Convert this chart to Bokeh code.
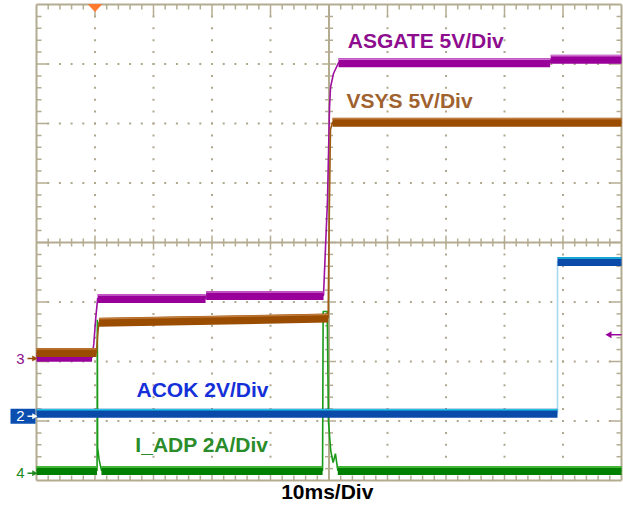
import math
from bokeh.plotting import figure
from bokeh.models import Range1d
from bokeh.core.properties import value
from bokeh.embed import file_html
from bokeh.resources import INLINE

# ---- screen geometry (scope graticule: 10 x 8 divisions, 10 ms per division) ----
W, H = 623, 507
GRID_LEFT, GRID_TOP, GRID_BOTTOM = 36, 4, 480
PX_PER_MS = 5.85          # 58.5 px per 10 ms division
PX_PER_DIV = 59.5
MS_SPAN, DIV_SPAN = 100.0, 8.0
PXX = 1.0 / PX_PER_MS     # one screen pixel in ms
PXY = 1.0 / PX_PER_DIV    # one screen pixel in divisions

# ---- captured waveforms: time (ms) vs. level (screen divisions) ----
asgate_t = [0.0, 9.5, 9.8, 10.1, 10.45, 28.9, 29.0, 49.06, 49.74, 50.09, 50.26, 50.77, 51.62, 87.8, 87.9, 100.0]
asgate_v = [2.07, 2.07, 2.3, 2.7, 3.06, 3.06, 3.11, 3.11, 4.71, 6.27, 6.61, 6.84, 7.02, 7.02, 7.08, 7.08]

vsys_t = [0.0, 10.26, 10.45, 10.68, 49.85, 50.05, 50.25, 50.6, 100.0]
vsys_v = [2.15, 2.15, 2.45, 2.66, 2.73, 4.5, 5.9, 6.02, 6.02]

acok_t = [0.0, 89.06, 89.06, 100.0]
acok_v = [1.13, 1.13, 3.68, 3.68]

iadp_t = [0.0, 10.35, 10.4, 10.45, 10.7, 11.1, 48.9, 49.0, 49.7, 49.9, 50.3, 50.7, 51.1, 51.5, 100.0]
iadp_v = [0.17, 0.17, 2.7, 0.55, 0.35, 0.17, 0.17, 2.84, 2.84, 1.0, 0.5, 0.3, 0.45, 0.17, 0.17]

# channel ground markers (level in divisions) and the trigger time
ch_labels = ["3", "2", "4"]
ch_levels = [2.05, 1.08, 0.12]
ch_colors = ["#8e0d8e", "#ffffff", "#1f8a1f"]
ch_arrow_colors = ["#9a4c00", "#ffffff", "#1f8a1f"]
ref_arrow_level = 2.45
trigger_ms = 10.0

# trace styles
TRACES = [
    # (t, v, core colour, edge colour, step colour, label, label colour, label x, label baseline)
    (iadp_t, iadp_v, "#008000", "#5cc84a", "#1a9a1a", "I_ADP 2A/Div", "#2a8c2a", 16.9, 0.60),
    (asgate_t, asgate_v, "#990099", "#d070d0", "#a010a0", "ASGATE 5V/Div", "#8e0d8e", 53.2, 7.40),
    (vsys_t, vsys_v, "#9a4c00", "#c07a3a", "#a05a10", "VSYS 5V/Div", "#a0622e", 53.0, 6.39),
    (acok_t, acok_v, "#0a4aa8", "#22c4e6", "#a8d8f0", "ACOK 2V/Div", "#1530d8", 17.1, 1.53),
]

GRAT = "#b4ac91"
DOT = "#aea78c"

p = figure(width=W, height=H, output_backend="svg", toolbar_location=None,
           x_range=Range1d(-GRID_LEFT * PXX, (W - GRID_LEFT) * PXX),
           y_range=Range1d(-(H - GRID_BOTTOM) * PXY, GRID_BOTTOM * PXY),
           min_border=0)
p.xaxis.visible = False
p.yaxis.visible = False
p.grid.visible = False
p.outline_line_color = None
p.background_fill_color = "white"
p.border_fill_color = "white"

# ---- graticule: dotted division lines ----
dx, dy = [], []
for i in range(1, 10):
    if i == 5:
        continue
    for k in range(1, 40):
        dx.append(i * 10.0)
        dy.append(k * 0.2)
for j in range(1, 8):
    if j == 4:
        continue
    for k in range(1, 50):
        dx.append(k * 2.0)
        dy.append(float(j))
p.scatter(dx, dy, marker="square", size=2, fill_color=DOT, line_color=None)

# border frame and centre cross
p.segment(x0=[0, 100, 0, 0, 50, 0], y0=[0, 0, 0, 8, 0, 4],
          x1=[0, 100, 100, 100, 50, 100], y1=[8, 8, 0, 8, 8, 4],
          line_color=GRAT, line_width=2)

# tick marks along the frame and the centre cross
rx, ry, rl, ra = [], [], [], []
for k in range(1, 40):
    yv = k * 0.2
    major = (k % 5 == 0)
    L = 12 if major else 5
    rx += [0, 100]; ry += [yv, yv]; rl += [L, L]; ra += [0, math.pi]
    c = 7 if major else 4
    rx += [50, 50]; ry += [yv, yv]; rl += [c, c]; ra += [0, math.pi]
for k in range(1, 50):
    xv = k * 2.0
    major = (k % 5 == 0)
    L = 12 if major else 5
    rx += [xv, xv]; ry += [0, 8]; rl += [L, L]; ra += [math.pi / 2, -math.pi / 2]
    c = 7 if major else 4
    rx += [xv, xv]; ry += [4, 4]; rl += [c, c]; ra += [math.pi / 2, -math.pi / 2]
p.ray(x=rx, y=ry, length=rl, angle=ra, length_units="screen",
      line_color=GRAT, line_width=1.5)

# ---- waveforms ----
for t, v, core, edge, step, label, lcol, lx, ly in TRACES:
    # thin trace through every point
    p.line(t, v, line_color=step, line_width=1.6)
    # noisy plateaus drawn as a thick band
    bx0, by0, bx1, by1 = [], [], [], []
    for a in range(len(t) - 1):
        if t[a + 1] - t[a] >= 1.0 and abs(v[a + 1] - v[a]) < 0.15:
            bx0.append(t[a]); by0.append(v[a]); bx1.append(t[a + 1]); by1.append(v[a + 1])
    p.segment(bx0, by0, bx1, by1, line_color=core, line_width=9, line_cap="butt")
    p.segment(bx0, [y + 3.5 * PXY for y in by0], bx1, [y + 3.5 * PXY for y in by1],
              line_color=edge, line_width=1.5)
    p.text(x=[lx], y=[ly], text=[label], text_color=lcol,
           text_font=value("Liberation Sans"), text_font_style="bold",
           text_font_size="21px", text_align="left", text_baseline="alphabetic")

# ---- channel markers on the left edge ----
# blue box behind channel 2
p.rect(x=[-13.5 * PXX], y=[ch_levels[1]], width=25 * PXX, height=15 * PXY,
       fill_color="#0a4fb0", line_color=None)
p.text(x=[-16 * PXX] * 3, y=ch_levels, text=ch_labels, text_color=ch_colors,
       text_font=value("Liberation Sans"), text_font_size="15px",
       text_align="center", text_baseline="middle")
p.segment(x0=[-9 * PXX] * 3, y0=ch_levels, x1=[-2 * PXX] * 3, y1=ch_levels,
          line_color=ch_arrow_colors, line_width=1.5)
p.scatter(x=[-2.5 * PXX] * 3, y=ch_levels, marker="triangle", angle=-math.pi / 2,
          size=6, fill_color=ch_arrow_colors, line_color=None)

# reference arrow on the right edge
p.segment(x0=[100 - 12 * PXX], y0=[ref_arrow_level], x1=[100], y1=[ref_arrow_level],
          line_color="#990099", line_width=1.5)
p.scatter(x=[100 - 12 * PXX], y=[ref_arrow_level], marker="triangle", angle=math.pi / 2,
          size=7, fill_color="#990099", line_color=None)

# trigger position marker at the top
p.patch(x=[trigger_ms - 6.5 * PXX, trigger_ms + 6.5 * PXX, trigger_ms],
        y=[DIV_SPAN, DIV_SPAN, DIV_SPAN - 7 * PXY],
        fill_color="#ff7a2e", line_color="#ff7a2e")

# time base caption
p.text(x=[49.7], y=[-11 * PXY], text=["10ms/Div"], text_color="#000000",
       text_font=value("Liberation Sans"), text_font_style="bold",
       text_font_size="21px", text_align="center", text_baseline="alphabetic")

open("out.html", "w").write(file_html(p, INLINE))
